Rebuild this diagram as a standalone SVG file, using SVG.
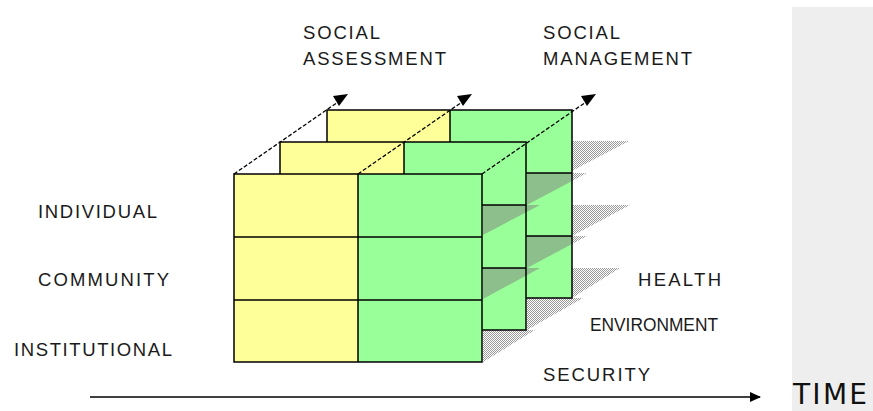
<svg xmlns="http://www.w3.org/2000/svg" width="873" height="411" viewBox="0 0 873 411">
<defs>
<pattern id="stip" width="2" height="2" patternUnits="userSpaceOnUse">
<rect x="0" y="0" width="1" height="1" fill="#9a9a9a"/>
<rect x="1" y="1" width="1" height="1" fill="#9a9a9a"/>
</pattern>
<marker id="ah" markerWidth="12" markerHeight="10" refX="10" refY="5" orient="auto" markerUnits="userSpaceOnUse">
<path d="M0,0 L11,5 L0,10 Z" fill="#000"/>
</marker>
</defs>
<style>
.y{fill:#FFFF99}
.g{fill:#99FF99}
.o{fill:none;stroke:#000;stroke-width:1.5}
.sh{fill:url(#stip)}
.dk{fill:#8CBF8C}
.t{font-family:"Liberation Sans",Arial,sans-serif;font-size:18.5px;fill:#1a1a1a}
.dash{fill:none;stroke:#000;stroke-width:1.3;stroke-dasharray:4 2}
</style>
<rect x="792" y="7" width="81" height="404" fill="#eeeeee"/>

<g id="shadows">
<polygon class="sh" points="572,141 629,141 572,171"/>
<polygon class="sh" points="527,173 587,173 527,205"/>
<polygon class="sh" points="572,205 630,205 572,236"/>
<polygon class="sh" points="527,236 587,236 527,268"/>
<polygon class="sh" points="572,268 620,268 572,298"/>
<polygon class="sh" points="527,298 583,298 527,330"/>
<polygon class="sh" points="483,330 535,330 483,362"/>
</g>

<g id="layer-back">
<rect class="y" x="327" y="110" width="123" height="188"/>
<rect class="g" x="450" y="110" width="122" height="188"/>
<polygon class="dk" points="527,173 572,173 572,181 527,205"/>
<polygon class="dk" points="527,236 572,236 572,244 527,268"/>
<path class="o" d="M327,110 H572 V298 H327 Z M450,110 V298 M327,173 H572 M327,236 H572"/>
</g>

<g id="layer-middle">
<rect class="y" x="280" y="142" width="124" height="188"/>
<rect class="g" x="404" y="142" width="122" height="188"/>
<polygon class="dk" points="483,205 540,205 483,235"/>
<polygon class="dk" points="483,268 540,268 483,299"/>
<path class="o" d="M280,142 H526 V330 H280 Z M404,142 V330 M280,205 H526 M280,268 H526"/>
</g>

<g id="layer-front">
<rect class="y" x="234" y="174" width="124" height="188"/>
<rect class="g" x="358" y="174" width="124" height="188"/>
<path class="o" d="M234,174 H482 V362 H234 Z M358,174 V362 M234,237 H482 M234,300 H482"/>
</g>

<g id="connectors">
<line class="dash" x1="234" y1="174" x2="338" y2="102"/>
<line class="dash" x1="358" y1="174" x2="462" y2="102"/>
<line class="dash" x1="482" y1="174" x2="586" y2="102"/>
<polygon points="333,96 348,94 339,106" fill="#000"/>
<polygon points="457,96 472,94 463,106" fill="#000"/>
<polygon points="581,96 596,94 587,106" fill="#000"/>
<line x1="90" y1="397" x2="760" y2="397" stroke="#000" stroke-width="1.3" marker-end="url(#ah)"/>
</g>

<g id="label-social-assessment">
<text class="t" x="303" y="39" textLength="77" lengthAdjust="spacing">SOCIAL</text>
<text class="t" x="303" y="65" textLength="143" lengthAdjust="spacing">ASSESSMENT</text>
</g>
<g id="label-social-management">
<text class="t" x="543" y="39" textLength="77" lengthAdjust="spacing">SOCIAL</text>
<text class="t" x="543" y="65" textLength="149" lengthAdjust="spacing">MANAGEMENT</text>
</g>
<g id="label-individual"><text class="t" x="38" y="218" textLength="119" lengthAdjust="spacing">INDIVIDUAL</text></g>
<g id="label-community"><text class="t" x="38" y="286" textLength="131" lengthAdjust="spacing">COMMUNITY</text></g>
<g id="label-institutional"><text class="t" x="14" y="356" textLength="158" lengthAdjust="spacing">INSTITUTIONAL</text></g>
<g id="label-health"><text class="t" x="638" y="286" textLength="83" lengthAdjust="spacing">HEALTH</text></g>
<g id="label-environment"><text class="t" x="590" y="331" textLength="128" lengthAdjust="spacingAndGlyphs">ENVIRONMENT</text></g>
<g id="label-security"><text class="t" x="543" y="381" textLength="107" lengthAdjust="spacing">SECURITY</text></g>
<g id="label-time"><text x="793" y="404" font-family="'DejaVu Sans',Verdana,sans-serif" font-size="28" fill="#111" textLength="74" lengthAdjust="spacing">TIME</text></g>
</svg>
